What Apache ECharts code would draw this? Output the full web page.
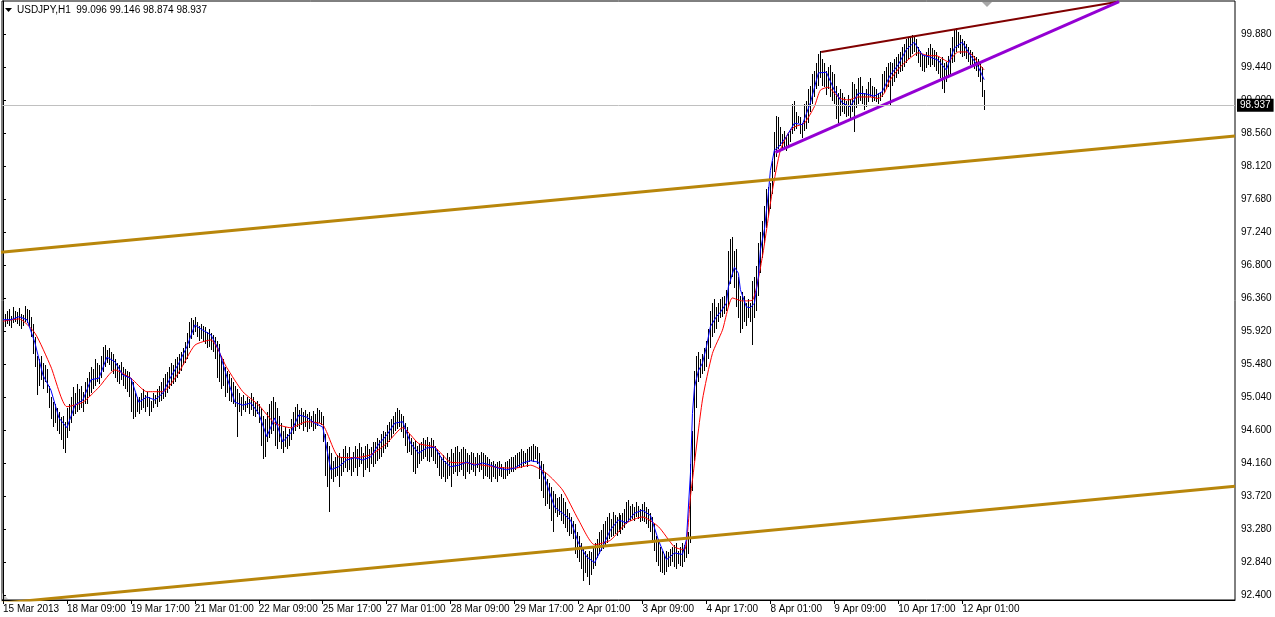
<!DOCTYPE html>
<html><head><meta charset="utf-8">
<script src="https://cdn.jsdelivr.net/npm/echarts@6/dist/echarts.min.js"></script>
<style>html,body{margin:0;padding:0;background:#fff}#c{width:1275px;height:617px}</style>
</head><body><div id="c"></div>
<script>
// ---- DATA ----
const symbolTitle = 'USDJPY,H1  99.096 99.146 98.874 98.937';
const bidPrice = 98.937;
const timeLabels = ['15 Mar 2013','18 Mar 09:00','19 Mar 17:00','21 Mar 01:00','22 Mar 09:00','25 Mar 17:00','27 Mar 01:00','28 Mar 09:00','29 Mar 17:00','2 Apr 01:00','3 Apr 09:00','4 Apr 17:00','8 Apr 01:00','9 Apr 09:00','10 Apr 17:00','12 Apr 01:00'];
const timeLabelIdx = [0,32,64,96,128,160,192,224,256,288,320,352,384,416,448,480];
const priceTicks = [92.40,92.84,93.28,93.72,94.16,94.60,95.04,95.48,95.92,96.36,96.80,97.24,97.68,98.12,98.56,99.00,99.44,99.88];

const highs = [
96.17,96.15,96.20,96.22,96.13,96.25,96.20,96.18,96.24,96.15,96.14,96.26,96.22,96.21,
96.12,96.02,95.85,95.60,
95.55,95.60,95.50,95.48,95.42,
95.20,95.05,94.98,94.95,94.90,
94.85,94.78,94.80,94.72,94.90,94.95,
95.05,95.18,95.10,95.22,95.15,95.20,95.12,95.25,
95.30,95.38,95.45,95.42,95.55,95.50,95.48,
95.60,95.72,95.74,95.68,95.70,95.65,95.62,95.55,95.50,
95.48,95.52,95.45,95.42,95.40,95.38,
95.30,95.25,95.10,95.05,
95.05,95.10,95.15,95.08,95.12,95.05,95.00,95.10,95.08,95.15,95.20,95.25,
95.30,95.35,95.38,95.45,95.50,95.48,95.55,95.58,95.62,95.65,95.70,95.78,
95.90,96.05,96.10,96.08,96.12,96.05,96.00,96.02,
96.00,95.98,95.92,95.95,95.90,95.88,95.85,
95.80,95.75,95.60,95.55,95.45,95.40,95.35,95.30,95.25,95.20,
95.15,95.10,95.05,95.08,95.00,95.05,95.02,95.10,95.05,94.98,95.00,94.95,
94.90,94.80,94.75,94.85,94.95,
95.00,95.05,94.98,94.90,94.80,
94.70,94.60,94.65,94.55,94.62,94.75,
94.85,94.92,94.95,94.88,94.90,94.85,94.88,
94.82,94.85,94.80,94.86,94.82,94.90,94.88,94.85,
94.80,94.55,94.45,94.40,94.30,94.20,94.25,94.28,
94.30,94.25,94.35,94.40,94.30,94.38,94.25,94.32,
94.40,94.35,94.43,94.38,94.30,94.40,94.42,94.35,94.38,94.45,
94.45,94.50,94.48,94.55,94.60,94.58,94.68,94.72,94.75,94.80,94.85,94.90,
94.88,94.82,94.80,94.70,94.65,94.55,94.50,
94.45,94.48,94.40,94.42,94.45,94.50,94.48,94.52,94.45,94.50,94.48,94.40,94.35,
94.30,94.25,94.28,94.20,94.30,94.25,94.35,94.30,94.38,94.40,94.32,94.35,
94.38,94.35,94.30,94.28,94.32,94.30,94.25,94.30,94.28,94.32,
94.30,94.28,94.25,94.22,94.18,94.20,94.15,94.18,94.20,94.15,94.12,94.18,94.20,94.22,94.25,
94.25,94.28,94.30,94.32,94.35,94.33,94.30,94.35,94.38,94.40,
94.42,94.40,94.38,94.30,94.20,
94.15,94.05,93.95,93.90,93.85,93.80,93.75,93.70,93.72,
93.75,93.70,93.65,93.55,93.50,93.45,93.40,
93.35,93.25,93.20,93.10,93.05,93.00,
92.95,93.00,92.98,93.05,93.10,93.15,93.25,93.28,
93.35,93.40,93.45,93.50,93.42,93.52,93.48,93.45,93.50,93.48,
93.50,93.55,93.65,93.68,93.60,93.62,93.58,93.65,93.60,93.55,
93.62,93.65,93.58,93.55,93.50,93.45,93.35,93.20,
93.15,93.05,93.00,92.95,93.00,92.98,93.02,93.05,93.08,93.10,93.00,93.05,93.10,93.08,93.12,
93.25,94.15,94.60,95.40,95.60,95.65,95.55,
95.62,95.70,95.80,95.95,96.20,96.30,96.35,96.25,
96.30,96.35,96.38,96.40,
96.48,97.00,97.15,97.18,97.00,97.02,96.65,96.40,
96.45,96.40,96.30,96.35,96.30,96.60,96.65,
96.80,97.10,97.25,97.40,97.60,97.82,97.85,97.90,
98.20,98.58,98.80,98.78,98.65,98.55,98.60,98.52,98.55,98.62,
98.95,99.00,98.85,98.80,98.78,98.70,98.95,99.00,
99.15,99.20,99.35,99.40,99.50,99.62,99.66,
99.55,99.50,99.40,99.45,99.48,99.38,99.35,99.20,99.10,99.15,
99.10,99.05,99.00,99.08,99.02,99.25,99.22,99.15,
99.30,99.32,99.20,99.10,99.15,99.25,99.30,
99.20,99.18,99.15,99.10,99.12,99.35,99.40,99.45,99.50,99.52,
99.50,99.55,99.58,99.62,99.65,99.72,99.75,99.82,99.85,99.86,
99.88,99.86,99.82,99.72,99.66,99.62,99.60,99.65,99.70,99.75,
99.70,99.68,99.65,99.58,99.55,99.58,99.50,99.52,
99.60,99.70,99.85,99.95,99.97,99.92,99.88,
99.82,99.80,99.75,99.72,99.68,99.65,99.60,99.58,
99.55,99.52,99.45,99.146
];

const lows = [
95.94,95.98,96.02,96.00,95.97,96.03,96.05,96.02,95.99,95.96,96.00,96.05,96.04,95.98,
95.85,95.62,95.45,95.08,
95.20,95.28,95.15,95.25,95.10,
94.90,94.75,94.65,94.70,94.60,
94.55,94.48,94.35,94.30,94.50,94.60,
94.70,94.80,94.82,94.85,94.88,94.90,94.85,94.95,
94.95,95.05,95.10,95.15,95.20,95.25,95.22,
95.30,95.38,95.45,95.50,95.48,95.40,95.35,95.30,95.25,
95.22,95.28,95.20,95.15,95.12,95.05,
94.85,94.75,94.78,94.85,
94.82,94.88,94.90,94.85,94.92,94.80,94.85,94.90,94.95,94.92,94.98,95.00,
95.02,95.05,95.10,95.15,95.20,95.22,95.25,95.30,95.35,95.40,95.48,95.50,
95.55,95.70,95.82,95.88,95.92,95.85,95.80,95.82,
95.78,95.75,95.70,95.72,95.68,95.65,95.55,
95.30,95.25,95.15,95.20,95.05,95.10,95.00,94.98,94.95,94.92,
94.52,94.85,94.80,94.88,94.85,94.90,94.82,94.88,94.80,94.78,94.82,94.70,
94.40,94.22,94.25,94.45,94.50,
94.55,94.60,94.40,94.35,94.45,
94.35,94.30,94.38,94.35,94.40,94.48,
94.55,94.60,94.65,94.62,94.68,94.60,94.65,
94.58,94.62,94.65,94.60,94.62,94.66,94.70,94.68,
94.45,94.00,93.85,93.52,93.95,93.92,93.98,94.00,
93.85,94.00,94.05,94.10,94.05,94.08,94.00,94.05,
94.10,94.00,94.12,94.15,93.98,94.08,94.10,94.05,94.15,94.12,
94.15,94.20,94.22,94.25,94.30,94.35,94.38,94.45,94.50,94.55,94.60,94.62,
94.65,94.58,94.50,94.40,94.30,94.32,94.28,
94.05,94.02,94.10,94.15,94.20,94.22,94.25,94.20,94.18,94.25,94.20,94.15,94.10,
94.00,93.95,93.98,93.92,93.95,94.00,93.85,94.02,94.05,94.00,94.05,94.08,
94.00,93.95,94.05,94.02,94.08,94.05,94.00,94.10,94.05,94.08,
93.95,94.00,93.98,93.95,93.92,93.98,93.95,93.92,94.00,93.98,93.95,93.96,94.00,94.02,94.05,
94.05,94.08,94.10,94.12,94.10,94.12,94.15,94.12,94.18,94.20,
94.18,94.22,94.15,93.95,93.80,
93.70,93.60,93.62,93.55,93.40,93.25,93.50,93.45,93.48,
93.40,93.35,93.30,93.25,93.20,93.22,93.15,
92.95,92.90,92.85,92.75,92.60,92.70,
92.65,92.54,92.68,92.75,92.80,92.90,92.95,93.00,
93.02,93.05,93.10,93.15,93.18,93.20,93.22,93.20,93.25,93.22,
93.28,93.30,93.35,93.38,93.40,93.42,93.40,93.45,93.42,93.38,
93.40,93.38,93.35,93.30,93.25,93.10,93.00,92.85,
92.80,92.72,92.70,92.68,92.72,92.78,92.80,92.85,92.78,92.75,92.82,92.80,92.78,92.85,92.90,
92.95,93.10,93.80,94.20,94.90,95.25,95.30,
95.35,95.40,95.45,95.55,95.70,95.85,95.90,95.95,
96.05,96.10,96.12,96.15,
96.20,96.25,96.55,96.65,96.50,96.25,96.10,95.90,
95.95,96.05,96.00,96.10,96.05,95.74,96.10,
96.20,96.40,96.70,96.90,97.10,97.30,97.45,97.55,
97.75,98.05,98.25,98.35,98.40,98.35,98.38,98.33,98.40,98.45,
98.55,98.60,98.62,98.70,98.55,98.50,98.60,98.62,
98.70,98.85,98.95,99.05,99.15,99.20,99.30,
99.20,99.18,99.08,99.15,99.05,99.00,98.95,98.75,98.70,98.80,
98.85,98.82,98.78,98.80,98.75,98.85,98.58,98.90,
98.95,99.00,98.95,98.88,98.92,98.98,99.05,
98.98,99.00,98.98,98.95,99.00,99.05,99.10,99.15,99.18,98.94,
99.20,99.25,99.30,99.35,99.38,99.40,99.45,99.50,99.55,99.58,
99.62,99.65,99.60,99.50,99.45,99.40,99.38,99.44,99.48,99.45,
99.48,99.45,99.40,99.35,99.30,99.15,99.10,99.25,
99.30,99.35,99.50,99.52,99.65,99.70,99.62,
99.58,99.60,99.55,99.52,99.48,99.45,99.42,99.40,
99.32,99.25,99.05,98.874
];

// fast moving average (blue): [bar index, value]
const maFast = [
[0,96.08],[4,96.08],[8,96.12],[12,96.08],[16,95.77],[20,95.34],[24,95.14],[28,94.77],[32,94.64],[36,94.94],
[40,95.01],[44,95.28],[48,95.30],[52,95.58],[56,95.52],[60,95.34],[64,95.30],[68,94.98],[72,95.05],[76,95.01],
[80,95.10],[84,95.32],[88,95.50],[92,95.72],[96,96.01],[100,95.94],[104,95.88],[108,95.68],[112,95.32],[116,94.98],
[120,94.94],[124,94.97],[128,94.83],[132,94.52],[136,94.77],[140,94.45],[144,94.57],[148,94.81],[152,94.78],[156,94.70],
[160,94.65],[164,94.08],[168,94.12],[172,94.21],[176,94.24],[180,94.21],[184,94.25],[188,94.42],[192,94.54],[196,94.70],
[200,94.72],[204,94.43],[208,94.30],[212,94.37],[216,94.38],[220,94.21],[224,94.12],[228,94.14],[232,94.18],[236,94.14],
[240,94.17],[244,94.14],[248,94.10],[252,94.08],[256,94.10],[260,94.17],[264,94.20],[268,94.18],[272,93.90],[276,93.58],
[280,93.50],[284,93.41],[288,93.10],[292,92.92],[296,92.84],[300,93.05],[304,93.28],[308,93.41],[312,93.37],[316,93.50],
[320,93.54],[324,93.47],[328,93.14],[332,92.88],[336,92.97],[340,92.95],[342,93.15],[344,94.03],[345,94.83],[346,95.18],
[348,95.40],[350,95.50],[352,95.72],[354,95.99],[357,96.12],[359,96.18],[362,96.30],[363,96.52],[366,96.78],[368,96.70],
[369,96.48],[372,96.25],[374,96.24],[376,96.30],[378,96.65],[379,97.01],[381,97.28],[383,97.77],[384,98.07],[386,98.34],
[388,98.38],[392,98.52],[396,98.70],[400,98.68],[404,98.97],[408,99.37],[412,99.38],[416,99.14],[420,98.97],[424,98.92],
[428,99.10],[432,99.09],[436,99.06],[440,99.12],[444,99.34],[448,99.48],[452,99.68],[456,99.78],[460,99.61],[464,99.58],
[468,99.54],[472,99.41],[476,99.70],[480,99.78],[484,99.61],[488,99.45],[491,99.28]
];

// slow moving average (red): [bar index, value]
const maSlow = [
[0,96.06],[8,96.09],[16,95.90],[24,95.45],[32,94.92],[40,94.98],[48,95.18],[56,95.41],[64,95.30],[72,95.12],
[80,95.12],[88,95.38],[96,95.74],[104,95.81],[112,95.44],[120,95.12],[128,94.94],[136,94.70],[144,94.64],[152,94.72],
[160,94.68],[168,94.25],[176,94.24],[184,94.28],[192,94.43],[200,94.64],[208,94.43],[216,94.38],[224,94.18],[232,94.17],
[240,94.14],[248,94.11],[256,94.10],[264,94.14],[272,94.03],[280,93.81],[288,93.41],[296,93.08],[304,93.14],[312,93.37],
[320,93.45],[328,93.32],[336,93.05],[341,93.01],[344,93.72],[345,93.94],[350,95.01],[355,95.63],[360,95.94],[365,96.37],
[370,96.33],[375,96.34],[380,96.92],[385,97.80],[389,98.34],[393,98.57],[396,98.65],[401,98.70],[406,98.92],[409,99.14],
[413,99.18],[416,99.10],[419,99.03],[423,99.01],[428,99.05],[434,99.05],[438,99.03],[441,99.10],[444,99.28],[449,99.45],
[454,99.57],[458,99.64],[463,99.60],[467,99.60],[473,99.52],[476,99.61],[478,99.65],[482,99.65],[485,99.61],[488,99.50],[491,99.41]
];

// drawn trend lines: [bar index, price]
const channelUpper = [[-1,96.98],[616.5,98.53]];
const channelLower = [[-1,92.30],[616.5,93.86]];
const wedgeTop = [[409.4,99.65],[558,100.32]];
const wedgeBottom = [[386.5,98.31],[558.5,100.32]];

// ---- CHART ----
const FONT = '"Liberation Sans", Arial, "DejaVu Sans", sans-serif';
const chart = echarts.init(document.getElementById('c'), null, {renderer:'canvas'});
const bars = highs.map((h,i)=>[i, lows[i], h]);

chart.setOption({
  animation:false,
  backgroundColor:'#fff',
  title:{text:symbolTitle,left:17,top:5,padding:0,textStyle:{fontSize:10,fontWeight:'normal',color:'#000',fontFamily:FONT}},
  graphic:[
    {type:'polygon',shape:{points:[[5,8],[12,8],[8.5,12]]},style:{fill:'#000'}},
    {type:'polygon',shape:{points:[[982,2],[992,2],[987,7]]},style:{fill:'#A8A8A8'}},
    {type:'polygon',shape:{points:[[2,593],[2,599],[8,599]]},style:{fill:'#C8C8C8'}}
  ],
  grid:{left:1,top:1,width:1234,height:599,show:true,borderColor:'#000',borderWidth:1,backgroundColor:'#fff'},
  xAxis:{type:'value',min:-0.5,max:616.5,
    axisLine:{show:true,lineStyle:{color:'#000',width:1}},
    axisTick:{show:true,customValues:timeLabelIdx,length:4,lineStyle:{color:'#000'}},
    axisLabel:{show:true,customValues:timeLabelIdx,align:'left',margin:4,color:'#000',fontSize:10,fontFamily:FONT,
      formatter:(v)=>timeLabels[timeLabelIdx.indexOf(Math.round(v))] || ''},
    splitLine:{show:false}},
  yAxis:{type:'value',position:'right',min:92.3427,max:100.3293,
    axisLine:{show:true,lineStyle:{color:'#000',width:1}},
    axisTick:{show:true,customValues:priceTicks,length:3,lineStyle:{color:'#000'}},
    axisLabel:{show:true,customValues:priceTicks,margin:6,color:'#000',fontSize:10,fontFamily:FONT,
      formatter:(v)=>Number(v).toFixed(3)},
    splitLine:{show:false}},
  series:[
    {type:'line',name:'bid',data:[],z:1,
      markLine:{silent:true,symbol:'none',animation:false,
        lineStyle:{color:'#C0C0C0',width:1,type:'solid'},
        label:{show:true,position:'end',distance:2,formatter:bidPrice.toFixed(3),backgroundColor:'#000',color:'#fff',
          padding:[2,3,1,3],fontSize:10,fontFamily:FONT},
        data:[{yAxis:bidPrice}]}},
    {type:'custom',name:'bars',data:bars,z:2,encode:{x:0,y:[1,2]},
      renderItem:(params,api)=>{
        const t = api.coord([api.value(0), api.value(2)]);
        const b = api.coord([api.value(0), api.value(1)]);
        const x = Math.round(t[0]);
        const y0 = Math.round(t[1]);
        return {type:'rect',shape:{x:x,y:y0,width:1,height:Math.max(1,Math.round(b[1])-y0)},style:{fill:'#000'}};
      }},
    {type:'line',name:'maSlow',data:maSlow,z:3,symbol:'none',smooth:0.2,lineStyle:{color:'#FF0000',width:1}},
    {type:'line',name:'maFast',data:maFast,z:3,symbol:'none',lineStyle:{color:'#0000FF',width:1}},
    {type:'line',name:'chUp',data:channelUpper,z:4,symbol:'none',lineStyle:{color:'#B8860B',width:3}},
    {type:'line',name:'chLo',data:channelLower,z:4,symbol:'none',lineStyle:{color:'#B8860B',width:3}},
    {type:'line',name:'wTop',data:wedgeTop,z:4,symbol:'none',lineStyle:{color:'#800000',width:2}},
    {type:'line',name:'wBot',data:wedgeBottom,z:4,symbol:'none',lineStyle:{color:'#9400D3',width:3}}
  ]
});
</script></body></html>
